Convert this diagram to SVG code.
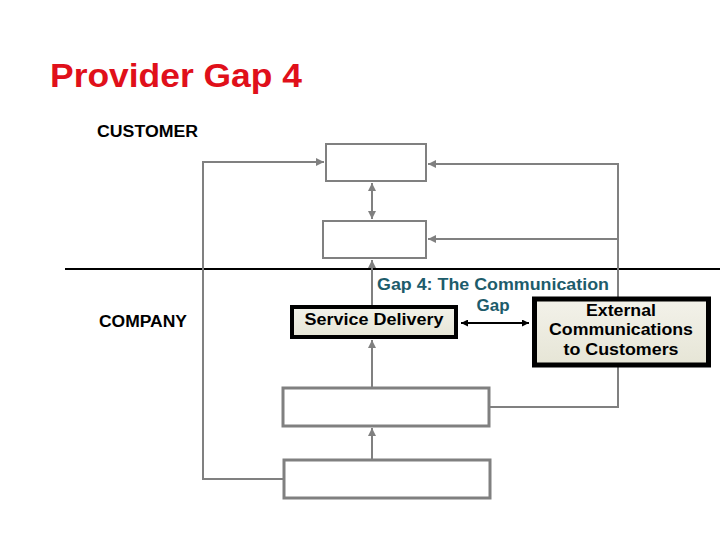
<svg xmlns="http://www.w3.org/2000/svg" width="720" height="540" viewBox="0 0 720 540">
<style>
.t{font-family:"Liberation Sans",Arial,sans-serif;font-weight:bold;}
.box{fill:#fff;stroke:#808080;}
.ln{fill:none;stroke:#808080;stroke-width:2;}
.hl{fill:url(#bg);stroke:#000;}
</style>
<defs>
<linearGradient id="bg" x1="0" y1="0" x2="0" y2="1">
<stop offset="0" stop-color="#F3F2EA"/>
<stop offset="1" stop-color="#E6E5D6"/>
</linearGradient>
<marker id="ga" viewBox="0 0 10 10" refX="10" refY="5" markerWidth="4" markerHeight="4" orient="auto-start-reverse" markerUnits="strokeWidth">
<path d="M0,0 L10,5 L0,10 z" fill="#808080"/>
</marker>
<marker id="ba" viewBox="0 0 10 10" refX="10" refY="5" markerWidth="3.5" markerHeight="3.5" orient="auto-start-reverse" markerUnits="strokeWidth">
<path d="M0,0 L10,5 L0,10 z" fill="#000"/>
</marker>
</defs>
<rect width="720" height="540" fill="#fff"/>
<text class="t" x="50" y="87" font-size="33" fill="#E0101A" textLength="252" lengthAdjust="spacingAndGlyphs">Provider Gap 4</text>
<text class="t" x="97" y="137" font-size="16" fill="#000" textLength="101" lengthAdjust="spacingAndGlyphs">CUSTOMER</text>
<text class="t" x="99" y="327" font-size="16" fill="#000" textLength="88" lengthAdjust="spacingAndGlyphs">COMPANY</text>
<line x1="65" y1="269" x2="720" y2="269" stroke="#000" stroke-width="2"/>
<g id="connectors">
<line class="ln" x1="372" y1="183" x2="372" y2="219" marker-start="url(#ga)" marker-end="url(#ga)"/>
<polyline class="ln" points="283,479 203,479 203,162 324,162" marker-end="url(#ga)"/>
<polyline class="ln" points="490,407 618,407 618,164 428,164" marker-end="url(#ga)"/>
<line class="ln" x1="618" y1="239" x2="428" y2="239" marker-end="url(#ga)"/>
<line class="ln" x1="372" y1="305" x2="372" y2="260" marker-end="url(#ga)"/>
<line class="ln" x1="372" y1="387" x2="372" y2="340" marker-end="url(#ga)"/>
<line class="ln" x1="372" y1="459" x2="372" y2="428" marker-end="url(#ga)"/>
<line x1="461" y1="323" x2="529" y2="323" stroke="#000" stroke-width="2" marker-start="url(#ba)" marker-end="url(#ba)"/>
</g>
<g id="n1"><rect class="box" x="326" y="144" width="100" height="37" stroke-width="2"/></g>
<g id="n2"><rect class="box" x="323" y="221" width="103" height="37" stroke-width="2"/></g>
<g id="n3"><rect class="box" x="283" y="388" width="206" height="38" stroke-width="3"/></g>
<g id="n4"><rect class="box" x="284" y="460" width="206" height="38" stroke-width="3"/></g>
<g id="gap-label">
<text class="t" x="493" y="290" font-size="17" fill="#1D5C6B" text-anchor="middle" textLength="232" lengthAdjust="spacingAndGlyphs">Gap 4: The Communication</text>
<text class="t" x="493" y="311" font-size="17" fill="#1D5C6B" text-anchor="middle" textLength="33" lengthAdjust="spacingAndGlyphs">Gap</text>
</g>
<g id="service-delivery">
<rect class="hl" x="292" y="307" width="164" height="30" stroke-width="4"/>
<text class="t" x="374" y="325" font-size="17" fill="#000" text-anchor="middle" textLength="139" lengthAdjust="spacingAndGlyphs">Service Delivery</text>
</g>
<g id="external">
<rect class="hl" x="534.5" y="299" width="174" height="66" stroke-width="5"/>
<text class="t" x="621" y="316" font-size="17" fill="#000" text-anchor="middle" textLength="70" lengthAdjust="spacingAndGlyphs">External</text>
<text class="t" x="621" y="335" font-size="17" fill="#000" text-anchor="middle" textLength="144" lengthAdjust="spacingAndGlyphs">Communications</text>
<text class="t" x="621" y="355" font-size="17" fill="#000" text-anchor="middle" textLength="115" lengthAdjust="spacingAndGlyphs">to Customers</text>
</g>
</svg>
